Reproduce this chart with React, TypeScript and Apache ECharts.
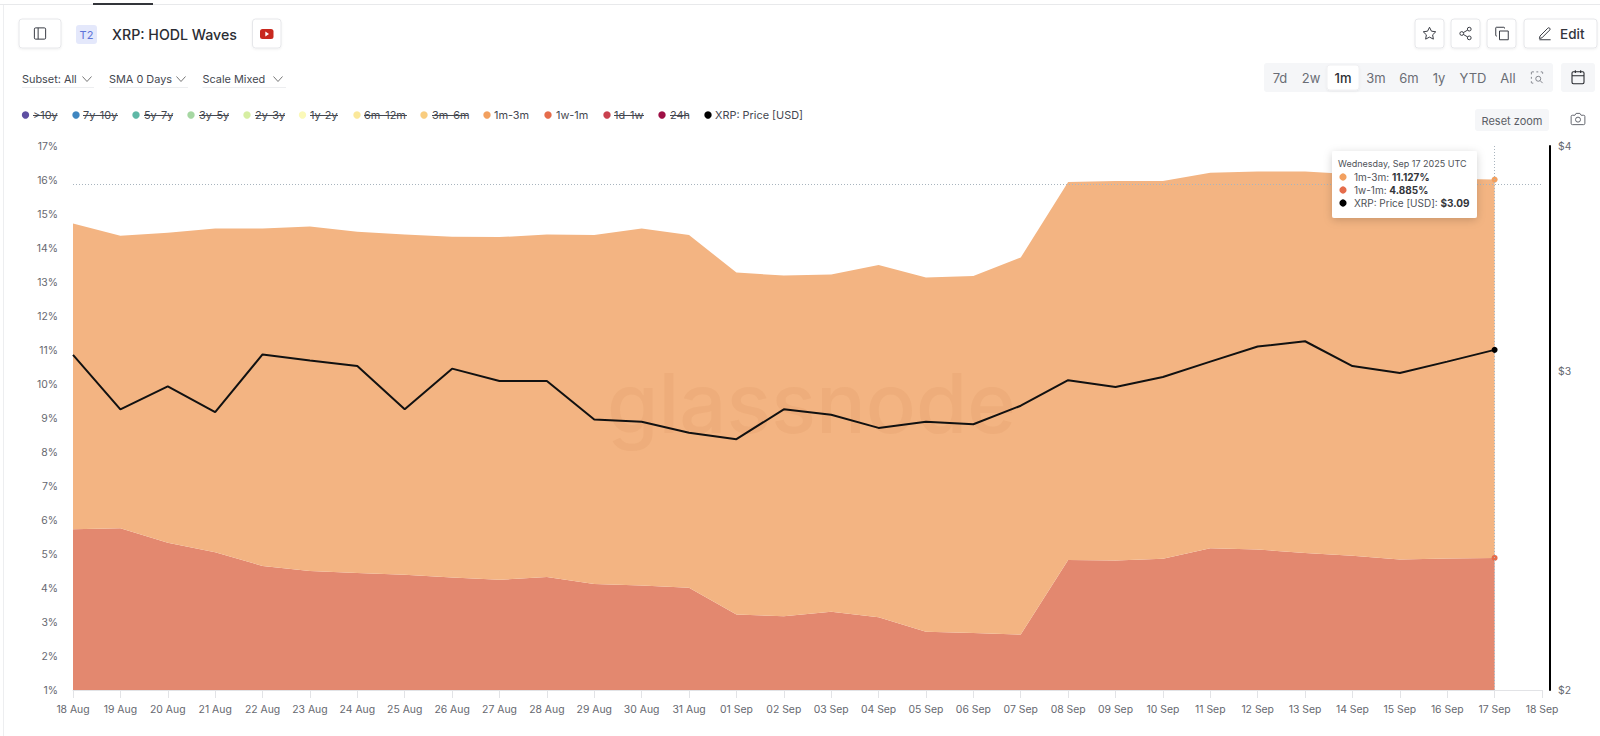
import React, { useEffect, useRef } from "react";
import * as echarts from "echarts";

const categories = ["18 Aug","19 Aug","20 Aug","21 Aug","22 Aug","23 Aug","24 Aug","25 Aug","26 Aug","27 Aug","28 Aug","29 Aug","30 Aug","31 Aug","01 Sep","02 Sep","03 Sep","04 Sep","05 Sep","06 Sep","07 Sep","08 Sep","09 Sep","10 Sep","11 Sep","12 Sep","13 Sep","14 Sep","15 Sep","16 Sep","17 Sep","18 Sep"];
const oneWeekToOneMonth = [5.73,5.76,5.33,5.05,4.65,4.5,4.44,4.39,4.31,4.24,4.32,4.12,4.07,4.01,3.22,3.17,3.3,3.14,2.71,2.68,2.63,4.82,4.81,4.86,5.17,5.13,5.03,4.95,4.84,4.87,4.885,null];
const oneMonthToThree = [8.99,8.6,9.12,9.52,9.92,10.13,10.04,10.01,10.02,10.08,10.08,10.26,10.5,10.37,10.06,10.02,9.92,10.36,10.42,10.5,11.09,11.12,11.16,11.11,11.04,11.12,11.22,11.22,11.27,11.17,11.127,null];
const price = [3.065,2.86,2.945,2.85,3.067,3.043,3.022,2.86,3.012,2.965,2.965,2.823,2.815,2.776,2.753,2.86,2.84,2.793,2.815,2.806,2.873,2.968,2.942,2.98,3.039,3.098,3.119,3.022,2.995,3.039,3.085,null];
const priceTicks = [2, 3, 4];
const crosshairShare = 15.88;

const FONT = "Inter";
const legendItems = [
  { name: ">10y", color: "#5E4FA2", dot: 25.5, text: 33, end: 57.6, off: true },
  { name: "7y-10y", color: "#3F86C0", dot: 76, text: 83, end: 118, off: true },
  { name: "5y-7y", color: "#5FB8A6", dot: 136, text: 144, end: 173, off: true },
  { name: "3y-5y", color: "#A6D7A2", dot: 191, text: 199, end: 229, off: true },
  { name: "2y-3y", color: "#D6EEA2", dot: 247, text: 255, end: 285, off: true },
  { name: "1y-2y", color: "#FBF9B8", dot: 302.5, text: 310, end: 338, off: true },
  { name: "6m-12m", color: "#FBE89A", dot: 357, text: 364, end: 407, off: true },
  { name: "3m-6m", color: "#F9CD80", dot: 424, text: 432, end: 468, off: true },
  { name: "1m-3m", color: "#F2A05F", dot: 487, text: 494, end: 0, off: false },
  { name: "1w-1m", color: "#E56C4B", dot: 548, text: 556, end: 0, off: false },
  { name: "1d-1w", color: "#C9414F", dot: 607, text: 614, end: 644, off: true },
  { name: "24h", color: "#9E0F45", dot: 662, text: 670, end: 689, off: true },
  { name: "XRP: Price [USD]", color: "#000000", dot: 708, text: 715, end: 0, off: false },
];
const rangeLabels = [
  { t: "7d", x: 1280 }, { t: "2w", x: 1311 }, { t: "1m", x: 1343 }, { t: "3m", x: 1376 },
  { t: "6m", x: 1409 }, { t: "1y", x: 1439 }, { t: "YTD", x: 1473 }, { t: "All", x: 1508 },
];
const dropdowns = [
  { t: "Subset: All", x: 22, chev: 87, end: 94 },
  { t: "SMA 0 Days", x: 109, chev: 181, end: 188 },
  { t: "Scale Mixed", x: 202.5, chev: 278, end: 286 },
];

const ICONS: Record<string, string> = {
  icSidebar: "M5 3h14a2 2 0 0 1 2 2v14a2 2 0 0 1-2 2H5a2 2 0 0 1-2-2V5a2 2 0 0 1 2-2z M9 3v18",
  icStar: "M12 2l3.09 6.26L22 9.27l-5 4.87 1.18 6.88L12 17.77l-6.18 3.25L7 14.14 2 9.27l6.91-1.01z",
  icShare: "M21 5a3 3 0 1 1-6 0 3 3 0 0 1 6 0z M9 12a3 3 0 1 1-6 0 3 3 0 0 1 6 0z M21 19a3 3 0 1 1-6 0 3 3 0 0 1 6 0z M8.6 13.5l6.8 4 M15.4 6.5l-6.8 4",
  icCopy: "M8 8h14v14H8z M4 16H3a1 1 0 0 1-1-1V3a1 1 0 0 1 1-1h12a1 1 0 0 1 1 1v1",
  icPencil: "M3 22h18 M16.5 3.5a2.1 2.1 0 0 1 3 3L7 19l-4 1 1-4z",
  icCalendar: "M5 4h14a2 2 0 0 1 2 2v14a2 2 0 0 1-2 2H5a2 2 0 0 1-2-2V6a2 2 0 0 1 2-2z M16 2v4 M8 2v4 M3 10h18",
  icCamera: "M23 19a2 2 0 0 1-2 2H3a2 2 0 0 1-2-2V8a2 2 0 0 1 2-2h4l2-3h6l2 3h4a2 2 0 0 1 2 2z M16 13a4 4 0 1 1-8 0 4 4 0 0 1 8 0z",
  icZoomSel: "M3 7V4a1 1 0 0 1 1-1h3 M11 3h3 M18 3h2a1 1 0 0 1 1 1v2 M3 11v3 M3 18v2a1 1 0 0 0 1 1h2 M18 14a4 4 0 1 1-8 0 4 4 0 0 1 8 0z M17 17l4 4",
};
Object.keys(ICONS).forEach((k) => {
  echarts.graphic.registerShape(k, (echarts.graphic as any).extendPath(ICONS[k], {}));
});

const icon = (type: string, x: number, y: number, size: number, stroke = "#3a3d45", lineWidth = 1.6) => ({
  type, x: x - size / 2, y: y - size / 2, scaleX: size / 24, scaleY: size / 24, z: 50,
  style: { fill: "none", stroke, lineWidth: lineWidth },
});
const box = (x: number, y: number, w: number, h: number, fill = "#fff", stroke = "#E6E7EA", r = 3, z = 40) => ({
  type: "rect", z, shape: { x, y, width: w, height: h, r },
  style: { fill, stroke, lineWidth: 1, ...(stroke !== "none" ? { shadowBlur: 2, shadowColor: "rgba(0,0,0,0.06)", shadowOffsetY: 1 } : {}) },
});
const label = (text: string, x: number, y: number, size = 10.9, fill = "#4a4d55", weight: any = 400, align = "left", z = 50) => ({
  type: "text", x, y, z,
  style: { text, fontFamily: FONT, fontSize: size, fontWeight: weight, fill, textAlign: align, textVerticalAlign: "middle" },
});
const chevron = (x: number, y: number) => ({
  type: "polyline", z: 50, shape: { points: [[x - 4.5, y - 2.5], [x, y + 2.5], [x + 4.5, y - 2.5]] },
  style: { stroke: "#777", lineWidth: 1, fill: "none" },
});
const seg = (x1: number, y1: number, x2: number, y2: number, stroke: string, lineWidth = 1, z = 50) => ({
  type: "line", z, shape: { x1, y1, x2, y2 }, style: { stroke, lineWidth },
});
const dot = (x: number, y: number, r: number, fill: string, z = 50) => ({
  type: "circle", z, shape: { cx: x, cy: y, r }, style: { fill },
});
const richRow = (key: string, val: string, y: number) => ({
  type: "text", x: 1354, y, z: 101,
  style: {
    text: `{a|${key}: }{b|${val}}`,
    rich: {
      a: { fontFamily: FONT, fontSize: 10, fill: "#4f5258" },
      b: { fontFamily: FONT, fontSize: 10, fontWeight: 700, fill: "#33353a" },
    },
    textVerticalAlign: "middle",
  },
});

const buildGraphics = () => {
  const els: any[] = [
    seg(0, 4.5, 1600, 4.5, "#E8E9EB", 1, 10),
    seg(93, 4, 153, 4, "#33353A", 2, 11),
    seg(3.5, 5, 3.5, 736, "#EDEEF0", 1, 10),
    box(19, 19, 42, 29),
    icon("icSidebar", 40, 33.5, 15),
    box(76, 25, 21, 19, "#E4E8FB", "none"),
    label("T2", 86.5, 34.5, 11, "#5E73D8", 400, "center"),
    label("XRP: HODL Waves", 112, 34, 14.2, "#2b2d33", 500),
    box(252.5, 19, 28.5, 29),
    { type: "rect", z: 50, shape: { x: 260, y: 29, width: 13.5, height: 10, r: 2.5 }, style: { fill: "#C8281E" } },
    { type: "polygon", z: 51, shape: { points: [[265.3, 31.5], [269, 34], [265.3, 36.5]] }, style: { fill: "#fff" } },
    box(1415, 19, 29, 29), icon("icStar", 1429.5, 33.5, 15),
    box(1451, 19, 29, 29), icon("icShare", 1465.5, 33.5, 15),
    box(1487, 19, 29, 29), icon("icCopy", 1502, 33.5, 15),
    box(1524, 19, 73, 29), icon("icPencil", 1545, 33.5, 15),
    label("Edit", 1560, 34, 13.5, "#33353c", 500),
    box(1264, 63, 289, 29, "#F5F6F8", "none"),
    box(1327, 65, 32, 25, "#fff", "#F0F0F2"),
    box(1561, 63, 34, 29, "#F5F6F8", "none"),
    icon("icCalendar", 1578, 77, 16, "#26282d"),
    icon("icZoomSel", 1537, 77.5, 15, "#6b6e76", 1.3),
    box(1475, 109, 74, 22, "#F5F6F8", "none"),
    label("Reset zoom", 1512, 120.5, 11, "#5b5e66", 400, "center"),
    icon("icCamera", 1578, 119, 15, "#5b5e66", 1.5),
    {
      type: "text", x: 607, y: 403, z: 3,
      style: { text: "glassnode", fontFamily: FONT, fontSize: 83, fontWeight: 500, fill: "rgba(190,115,60,0.09)", textAlign: "left", textVerticalAlign: "middle" },
    },
    { type: "rect", z: 100, shape: { x: 1332, y: 151, width: 145, height: 67, r: 2 }, style: { fill: "#fff", shadowBlur: 8, shadowColor: "rgba(0,0,0,0.18)", shadowOffsetY: 2 } },
    label("Wednesday, Sep 17 2025 UTC", 1338, 163, 9, "#4f5258", 400, "left", 101),
    dot(1343, 177, 3.6, "#F2A05F", 101),
    richRow("1m-3m", "11.127%", 177),
    dot(1343, 190, 3.6, "#E56C4B", 101),
    richRow("1w-1m", "4.885%", 190),
    dot(1343, 203, 3.6, "#000", 101),
    richRow("XRP: Price [USD]", "$3.09", 203),
  ];
  rangeLabels.forEach((r) => els.push(label(r.t, r.x, 77.5, 13, r.t === "1m" ? "#2b2d33" : "#6a6d75", r.t === "1m" ? 500 : 400, "center")));
  dropdowns.forEach((d) => {
    els.push(label(d.t, d.x, 79, 10.9, "#44474f"));
    els.push(chevron(d.chev, 79));
    els.push(seg(d.x, 87.5, d.end, 87.5, "#EDEEF0"));
  });
  legendItems.forEach((l) => {
    els.push(dot(l.dot, 115, 3.7, l.color));
    els.push(label(l.name, l.text, 115, 10.9, "#44474f"));
    if (l.off) els.push(seg(l.text, 115.5, l.end, 115.5, "#44474f"));
  });
  return els;
};

const lastDot = (values: (number | null)[], color: string) =>
  values.map((v, i) =>
    i === values.length - 2
      ? { value: v, symbol: "circle", symbolSize: 6, itemStyle: { color } }
      : { value: v, symbol: "none" }
  );

export default function App() {
  const ref = useRef<HTMLDivElement>(null);
  useEffect(() => {
    const chart = echarts.init(ref.current!, null, { renderer: "svg" });
    chart.setOption({
      animation: false,
      backgroundColor: "#fff",
      textStyle: { fontFamily: FONT },
      grid: { left: 73, right: 58, top: 146, bottom: 46 },
      xAxis: {
        type: "category", data: categories, boundaryGap: false,
        axisLine: { lineStyle: { color: "#E2E3E6", width: 1 } },
        axisTick: { length: 8, lineStyle: { color: "#E2E3E6" }, interval: 0 },
        axisLabel: { interval: 0, color: "#66686f", fontSize: 10.4, fontFamily: FONT, margin: 14 },
        splitLine: { show: false },
      },
      yAxis: [
        {
          type: "value", min: 1, max: 17, interval: 1, position: "left",
          axisLine: { show: false }, axisTick: { show: false }, splitLine: { show: false },
          axisLabel: { formatter: "{value}%", color: "#66686f", fontSize: 10.4, fontFamily: FONT, margin: 15 },
        },
        {
          type: "log", logBase: 2, min: 2, max: 4, position: "right", offset: 8,
          axisLine: { show: true, onZero: false, lineStyle: { color: "#000", width: 2 } },
          axisTick: { show: false }, splitLine: { show: false },
          axisLabel: { customValues: priceTicks, formatter: (v: number) => "$" + v, color: "#66686f", fontSize: 10.4, fontFamily: FONT, margin: 8 },
        },
      ],
      series: [
        {
          name: "1w-1m", type: "line", stack: "hodl", yAxisIndex: 0, z: 2, showSymbol: true,
          data: lastDot(oneWeekToOneMonth, "#E56C4B"),
          lineStyle: { width: 0 }, areaStyle: { color: "#E3886F", opacity: 1 }, connectNulls: false,
        },
        {
          name: "1m-3m", type: "line", stack: "hodl", yAxisIndex: 0, z: 2, showSymbol: true,
          data: lastDot(oneMonthToThree, "#F2A05F"),
          lineStyle: { width: 0 }, areaStyle: { color: "#F3B482", opacity: 1 },
        },
        {
          name: "Crosshair", type: "line", yAxisIndex: 0, z: 4, symbol: "none",
          data: categories.map(() => null),
          markLine: {
            silent: true, symbol: "none", animation: false, label: { show: false },
            lineStyle: { type: [1, 2], color: "#A8B4BE", width: 1 },
            data: [{ yAxis: crosshairShare }, { xAxis: "17 Sep" }],
          },
        },
        {
          name: "XRP: Price [USD]", type: "line", yAxisIndex: 1, z: 5, showSymbol: true,
          data: lastDot(price, "#000"),
          lineStyle: { color: "#111", width: 2 }, itemStyle: { color: "#000" },
        },
      ],
      graphic: { elements: buildGraphics() },
    });
    return () => chart.dispose();
  }, []);
  return <div ref={ref} style={{ position: "absolute", left: 0, top: 0, width: 1600, height: 736 }} />;
}
